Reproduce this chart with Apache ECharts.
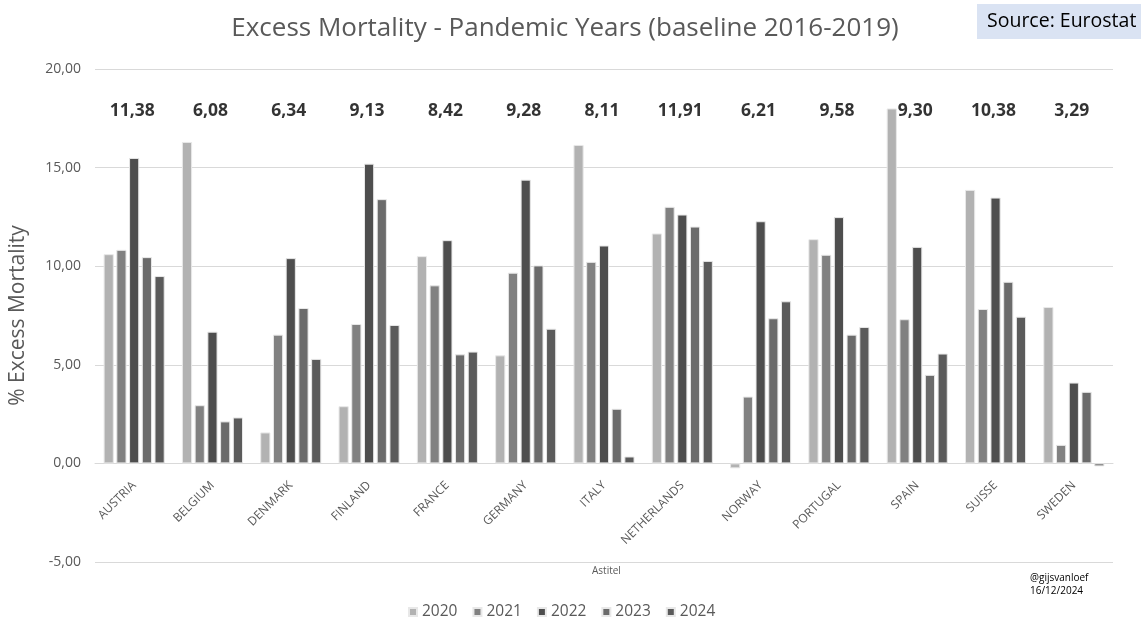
<!DOCTYPE html>
<html>
<head>
<meta charset="utf-8">
<script src="https://cdn.jsdelivr.net/npm/echarts@6/dist/echarts.min.js"></script>
<style>
html,body{margin:0;padding:0;background:#fff;}
#chart{width:1141px;height:619px;}
</style>
</head>
<body>
<div id="chart"></div>
<script>
var countries = ['AUSTRIA','BELGIUM','DENMARK','FINLAND','FRANCE','GERMANY','ITALY','NETHERLANDS','NORWAY','PORTUGAL','SPAIN','SUISSE','SWEDEN'];
var years = ['2020','2021','2022','2023','2024'];
var v2020 = [10.61, 16.30, 1.57, 2.90, 10.51, 5.48, 16.15, 11.66, -0.25, 11.37, 18.00, 13.87, 7.93];
var v2021 = [10.83, 2.95, 6.53, 7.07, 9.03, 9.67, 10.22, 13.01, 3.39, 10.58, 7.31, 7.83, 0.94];
var v2022 = [15.49, 6.68, 10.41, 15.20, 11.32, 14.39, 11.05, 12.62, 12.28, 12.49, 10.98, 13.48, 4.10];
var v2023 = [10.46, 2.13, 7.88, 13.40, 5.53, 10.04, 2.77, 12.01, 7.36, 6.53, 4.49, 9.21, 3.63];
var v2024 = [9.50, 2.33, 5.30, 7.02, 5.67, 6.83, 0.35, 10.27, 8.22, 6.92, 5.57, 7.44, -0.15];
var totals = [11.38, 6.08, 6.34, 9.13, 8.42, 9.28, 8.11, 11.91, 6.21, 9.58, 9.30, 10.38, 3.29];
var yTicks = [-5, 0, 5, 10, 15, 20];

var colors = ['#b2b2b2', '#818181', '#4e4e4e', '#6b6b6b', '#5b5b5b'];
var seriesValues = [v2020, v2021, v2022, v2023, v2024];
var FONT = '"Open Sans", Lato, sans-serif';
var fmt = function (v) { return Number(v).toFixed(2).replace('.', ','); };
var TOTAL_LABEL_LEVEL = 17.85;

var W = 1141, H = 619;
var GRID = { left: 95, right: 28, top: 69, bottom: 57 };
var yMin = yTicks[0], yMax = yTicks[yTicks.length - 1];
var gridH = H - GRID.top - GRID.bottom;
var zeroOffset = -gridH * (0 - yMin) / (yMax - yMin);

var series = seriesValues.map(function (vals, i) {
  return {
    name: years[i],
    type: 'bar',
    data: vals,
    barGap: '25%',
    barCategoryGap: '22%',
    itemStyle: { color: colors[i], borderColor: '#e8e8e8', borderWidth: 1 },
    z: 2
  };
});
series.push({
  name: 'total',
  type: 'scatter',
  symbolSize: 0,
  data: totals.map(function (t, i) { return [countries[i], TOTAL_LABEL_LEVEL, t]; }),
  label: {
    show: true,
    position: 'inside',
    offset: [-2, 0],
    formatter: function (p) { return fmt(p.value[2]); },
    color: '#000',
    fontWeight: 'bold',
    fontSize: 17.5,
    fontFamily: FONT
  },
  z: 5,
  silent: true
});

var chart = echarts.init(document.getElementById('chart'), null, { renderer: 'canvas' });
chart.setOption({
  backgroundColor: '#fff',
  animation: false,
  title: {
    text: 'Excess Mortality - Pandemic Years (baseline 2016-2019)',
    left: 560, top: 11, textAlign: 'center',
    textStyle: { color: '#595959', fontSize: 26, fontWeight: 'normal', fontFamily: FONT }
  },
  graphic: [
    { type: 'rect', shape: { x: 977, y: 4, width: 164, height: 35 }, style: { fill: '#dae3f3' } },
    { type: 'text', left: 987, top: 11, style: { text: 'Source: Eurostat', fill: '#000', fontSize: 19.5, fontFamily: FONT } },
    { type: 'text', left: 592, top: 566, style: { text: 'Astitel', fill: '#595959', fontSize: 10, fontFamily: FONT } },
    { type: 'text', left: 1030, top: 572, style: { text: '@gijsvanloef\n16/12/2024', fill: '#000', fontSize: 10, lineHeight: 13, fontFamily: FONT } }
  ],
  legend: {
    data: years,
    bottom: -6,
    left: 403,
    itemWidth: 8, itemHeight: 8, itemGap: 15,
    icon: 'rect',
    textStyle: { color: '#595959', fontSize: 15.5, fontFamily: FONT }
  },
  grid: { left: GRID.left, right: GRID.right, top: GRID.top, bottom: GRID.bottom, containLabel: false, outerBoundsMode: 'none' },
  xAxis: {
    type: 'category',
    data: countries,
    offset: zeroOffset,
    axisLine: { onZero: false, lineStyle: { color: '#d9d9d9', width: 1 } },
    axisTick: { show: false },
    axisLabel: { rotate: 45, color: '#595959', fontSize: 12, fontFamily: FONT, margin: 20, interval: 0 }
  },
  yAxis: {
    type: 'value',
    min: yMin, max: yMax, interval: 5,
    name: '% Excess Mortality',
    nameLocation: 'middle',
    nameGap: 66,
    nameTextStyle: { color: '#595959', fontSize: 21, fontFamily: FONT },
    axisLine: { show: false },
    axisTick: { show: false },
    splitLine: { lineStyle: { color: '#d9d9d9' } },
    axisLabel: { color: '#595959', fontSize: 14, fontFamily: FONT, margin: 14, formatter: fmt }
  },
  series: series
});
</script>
</body>
</html>
